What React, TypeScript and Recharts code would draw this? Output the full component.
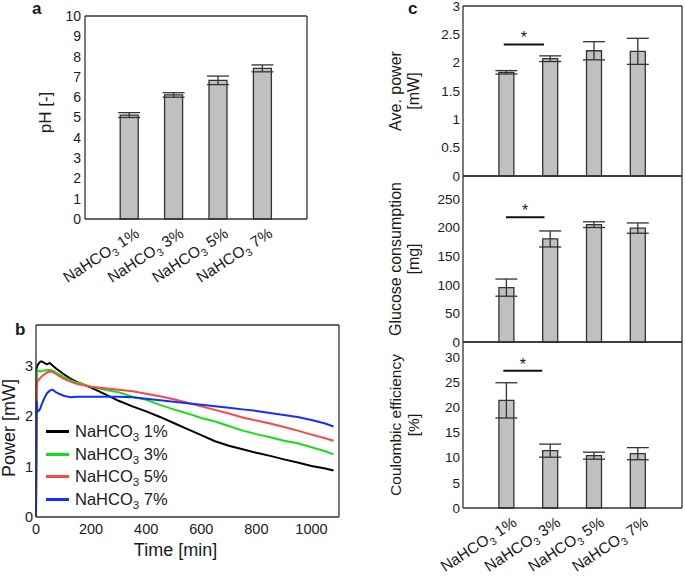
import React from "react";
import {
  BarChart,
  Bar,
  ErrorBar,
  LineChart,
  Line,
  XAxis,
  YAxis,
  Legend,
  ReferenceLine,
  ReferenceDot,
} from "recharts";

const FONT = '"Liberation Sans", Arial, Helvetica, sans-serif';
const AXIS = "#333333";
const INK = "#1a1a1a";
const BAR_FILL = "#c0c0c0";

// categories shared by the bar panels (slot positions on a 0..5 axis)
const CATEGORIES = ["NaHCO3 1%", "NaHCO3 3%", "NaHCO3 5%", "NaHCO3 7%"];
const SLOTS = [1, 2, 3, 4];

// (a) pH
const PH = [5.12, 6.11, 6.83, 7.42];
const PH_SD = [0.12, 0.11, 0.21, 0.17];
const PH_TICKS = [0, 1, 2, 3, 4, 5, 6, 7, 8, 9, 10];

// (c) average power, glucose consumption, coulombic efficiency
const AVE_POWER = [1.83, 2.07, 2.21, 2.2];
const AVE_POWER_SD = [0.03, 0.05, 0.16, 0.23];
const AVE_POWER_TICKS = [0, 0.5, 1, 1.5, 2, 2.5, 3];
const GLUCOSE = [95, 180, 205, 199];
const GLUCOSE_SD = [15, 14, 5, 9];
const GLUCOSE_TICKS = [0, 50, 100, 150, 200, 250];
const CE = [21.4, 11.4, 10.4, 10.8];
const CE_SD = [3.5, 1.3, 0.7, 1.2];
const CE_TICKS = [0, 5, 10, 15, 20, 25, 30];

// significance bars between 1% and 3%: [x from, x to, bar level, star level]
const SIG_POWER = [0.93, 1.85, 2.32, 2.48];
const SIG_GLUCOSE = [0.98, 1.86, 218, 234];
const SIG_CE = [0.92, 1.81, 27.3, 29.1];

// (b) power vs time
const TIME = [
  0, 2, 5, 10, 15, 20, 30, 40, 50, 60, 75, 100, 125, 150, 200, 250, 300, 350,
  400, 450, 500, 550, 600, 650, 700, 750, 800, 850, 900, 950, 1000, 1050, 1080,
];
const P_1 = [
  0, 2.95, 3.0, 3.04, 3.07, 3.08, 3.05, 3.02, 3.05, 3.0, 2.93, 2.83, 2.74,
  2.67, 2.56, 2.43, 2.3, 2.19, 2.09, 1.98, 1.86, 1.74, 1.62, 1.5, 1.41, 1.34,
  1.27, 1.21, 1.14, 1.08, 1.01, 0.96, 0.92,
];
const P_3 = [
  0, 2.88, 2.9, 2.89, 2.88, 2.89, 2.9, 2.91, 2.91, 2.9, 2.85, 2.78, 2.71, 2.66,
  2.58, 2.52, 2.47, 2.38, 2.32, 2.22, 2.13, 2.05, 1.96, 1.89, 1.8, 1.71, 1.64,
  1.58, 1.51, 1.46, 1.38, 1.3, 1.24,
];
const P_5 = [
  0, 2.45, 2.68, 2.72, 2.75, 2.78, 2.82, 2.86, 2.88, 2.87, 2.82, 2.74, 2.68,
  2.63, 2.58, 2.55, 2.52, 2.49, 2.44, 2.39, 2.33, 2.26, 2.19, 2.12, 2.05, 1.97,
  1.91, 1.85, 1.78, 1.71, 1.63, 1.56, 1.51,
];
const P_7 = [
  0, 2.3, 2.08, 2.1, 2.14, 2.22, 2.35, 2.45, 2.5, 2.52, 2.46, 2.4, 2.37, 2.38,
  2.38, 2.38, 2.38, 2.37, 2.34, 2.31, 2.28, 2.25, 2.22, 2.19, 2.16, 2.13, 2.1,
  2.06, 2.02, 1.98, 1.92, 1.85, 1.79,
];
const TIME_TICKS = [0, 200, 400, 600, 800, 1000];
const POWER_TICKS = [0, 1, 2, 3];

const SERIES = [
  { key: "p1", name: "NaHCO3 1%", color: "#000000", values: P_1 },
  { key: "p3", name: "NaHCO3 3%", color: "#16e016", values: P_3 },
  { key: "p5", name: "NaHCO3 5%", color: "#ff4545", values: P_5 },
  { key: "p7", name: "NaHCO3 7%", color: "#1030ff", values: P_7 },
];

const powerData = TIME.map((t, i) => {
  const row: Record<string, number> = { t };
  SERIES.forEach((s) => (row[s.key] = s.values[i]));
  return row;
});

function barRows(mean: number[], sd: number[]) {
  return SLOTS.map((pos, i) => ({ pos, mean: mean[i], sd: sd[i] }));
}

function Chem({ label, small }: { label: string; small: number }) {
  const [chem, pct] = label.split(" ");
  return (
    <>
      <tspan>{chem.slice(0, -1)}</tspan>
      <tspan fontSize={small} dy={4}>
        {chem.slice(-1)}
      </tspan>
      <tspan dy={-4}>{" " + pct}</tspan>
    </>
  );
}

function CategoryTick(props: any) {
  const { x, y, payload } = props;
  const label = CATEGORIES[payload.value - 1];
  if (!label) return null;
  return (
    <g transform={`translate(${x + 11},${y + 17})`}>
      <text transform="rotate(-33)" textAnchor="end" fontSize={15.5} fill={INK}>
        <Chem label={label} small={10.5} />
      </text>
    </g>
  );
}

function vTitle(lines: string[], xs: number[], fontSize: number, dy = 0) {
  return (props: any) => {
    const vb = props.viewBox ?? {};
    const cy = (vb.y ?? 0) + (vb.height ?? 0) / 2 + dy;
    return (
      <g>
        {lines.map((l, i) => (
          <text
            key={i}
            x={xs[i]}
            y={cy}
            transform={`rotate(-90 ${xs[i]} ${cy})`}
            textAnchor="middle"
            dominantBaseline="central"
            fontSize={fontSize}
            fill={INK}
          >
            {l}
          </text>
        ))}
      </g>
    );
  };
}

function Star(props: any) {
  return (
    <text x={props.cx} y={props.cy + 8} textAnchor="middle" fontSize={16} fill={INK}>
      *
    </text>
  );
}

function PowerLegend(props: any) {
  const items = props.payload ?? [];
  return (
    <div style={{ display: "flex", flexDirection: "column" }}>
      {items.map((it: any) => {
        const [chem, pct] = String(it.value).split(" ");
        return (
          <div
            key={it.value}
            style={{ display: "flex", alignItems: "center", height: 22.8, fontSize: 16.5, color: INK }}
          >
            <span
              style={{ display: "inline-block", width: 23, height: 3, background: it.color, marginRight: 6 }}
            />
            <span style={{ whiteSpace: "nowrap" }}>
              {chem.slice(0, -1)}
              <span style={{ fontSize: 11.5, position: "relative", top: 4 }}>{chem.slice(-1)}</span>
              {" " + pct}
            </span>
          </div>
        );
      })}
    </div>
  );
}

// box frame + inward ticks for a bar panel
function frameAxes(domain: [number, number], ticks: number[]) {
  return [
    <XAxis
      key="top"
      xAxisId="top"
      orientation="top"
      type="number"
      domain={[0, 5]}
      mirror
      tick={false}
      tickLine={false}
      axisLine={{ stroke: AXIS, strokeWidth: 1.3 }}
      allowDataOverflow
    />,
    <YAxis
      key="yin"
      yAxisId="yin"
      type="number"
      domain={domain}
      ticks={ticks}
      mirror
      tick={false}
      tickSize={4}
      tickLine={{ stroke: AXIS }}
      axisLine={false}
      allowDataOverflow
    />,
    <YAxis
      key="right"
      yAxisId="right"
      orientation="right"
      type="number"
      domain={domain}
      ticks={ticks}
      mirror
      tick={false}
      tickSize={4}
      tickLine={{ stroke: AXIS }}
      axisLine={{ stroke: AXIS, strokeWidth: 1.3 }}
      allowDataOverflow
    />,
  ];
}

function meanBar(barSize: number) {
  return (
    <Bar
      xAxisId="x"
      yAxisId="y"
      dataKey="mean"
      barSize={barSize}
      fill={BAR_FILL}
      stroke={AXIS}
      strokeWidth={1.3}
      isAnimationActive={false}
    >
      <ErrorBar dataKey="sd" width={11} stroke={AXIS} strokeWidth={1.3} direction="y" />
    </Bar>
  );
}

function sigMarks(sig: number[]) {
  const [x1, x2, level, star] = sig;
  return [
    <ReferenceLine
      key="sig"
      xAxisId="x"
      yAxisId="y"
      segment={[
        { x: x1, y: level },
        { x: x2, y: level },
      ]}
      stroke="#111"
      strokeWidth={2}
    />,
    <ReferenceDot
      key="star"
      xAxisId="x"
      yAxisId="y"
      x={(x1 + x2) / 2}
      y={star}
      r={0}
      shape={Star}
    />,
  ];
}

function PanelC({
  top,
  height,
  margin,
  xHeight,
  data,
  domain,
  ticks,
  title,
  titleSize,
  sig,
  showCats,
}: any) {
  return (
    <div style={{ position: "absolute", left: 380, top, width: 305, height }}>
      <BarChart width={305} height={height} data={data} margin={margin}>
        <XAxis
          xAxisId="x"
          type="number"
          dataKey="pos"
          domain={[0, 5]}
          ticks={SLOTS}
          interval={0}
          height={xHeight}
          tick={showCats ? <CategoryTick /> : false}
          tickLine={false}
          tickSize={0}
          tickMargin={0}
          axisLine={{ stroke: AXIS, strokeWidth: 1.3 }}
        />
        <YAxis
          yAxisId="y"
          type="number"
          domain={domain}
          ticks={ticks}
          interval={0}
          width={83}
          tickLine={false}
          tickSize={0}
          tickMargin={3}
          tick={{ fontSize: 13.5, fill: INK }}
          axisLine={{ stroke: AXIS, strokeWidth: 1.3 }}
          label={vTitle(title, [15, 33], titleSize)}
        />
        {frameAxes(domain, ticks)}
        {meanBar(15)}
        {sigMarks(sig)}
      </BarChart>
    </div>
  );
}

export default function App() {
  return (
    <div
      style={{
        position: "absolute",
        left: 0,
        top: 0,
        width: 685,
        height: 578,
        background: "#fff",
        fontFamily: FONT,
        overflow: "hidden",
      }}
    >
      {/* (a) pH */}
      <div style={{ position: "absolute", left: 0, top: 0, width: 320, height: 300 }}>
        <BarChart width={320} height={300} data={barRows(PH, PH_SD)} margin={{ top: 16, right: 13, left: 0, bottom: 0 }}>
          <XAxis
            xAxisId="x"
            type="number"
            dataKey="pos"
            domain={[0, 5]}
            ticks={SLOTS}
            interval={0}
            height={81}
            tick={<CategoryTick />}
            tickLine={false}
            tickSize={0}
            tickMargin={0}
            axisLine={{ stroke: AXIS, strokeWidth: 1.3 }}
          />
          <YAxis
            yAxisId="y"
            type="number"
            domain={[0, 10]}
            ticks={PH_TICKS}
            interval={0}
            width={85}
            tickLine={false}
            tickSize={0}
            tickMargin={4}
            tick={{ fontSize: 14, fill: INK }}
            axisLine={{ stroke: AXIS, strokeWidth: 1.3 }}
            label={vTitle(["pH [-]"], [45], 17, -5)}
          />
          {frameAxes([0, 10], PH_TICKS)}
          {meanBar(18)}
        </BarChart>
      </div>

      {/* (b) power vs time */}
      <div style={{ position: "absolute", left: 0, top: 310, width: 360, height: 268 }}>
        <LineChart width={360} height={268} data={powerData} margin={{ top: 15, right: 21, left: 0, bottom: 0 }}>
          <XAxis
            xAxisId="x"
            type="number"
            dataKey="t"
            domain={[0, 1100]}
            ticks={TIME_TICKS}
            interval={0}
            height={61}
            tickLine={false}
            tickSize={0}
            tickMargin={7}
            tick={{ fontSize: 14.5, fill: INK }}
            axisLine={{ stroke: AXIS, strokeWidth: 1.3 }}
            label={(p: any) => {
              const vb = p.viewBox ?? {};
              return (
                <text
                  x={(vb.x ?? 0) + (vb.width ?? 0) / 2 - 12}
                  y={(vb.y ?? 0) + 39}
                  textAnchor="middle"
                  fontSize={18}
                  fill={INK}
                >
                  Time [min]
                </text>
              );
            }}
          />
          <XAxis
            xAxisId="xin"
            type="number"
            domain={[0, 1100]}
            ticks={TIME_TICKS}
            mirror
            tick={false}
            tickSize={4}
            tickLine={{ stroke: AXIS }}
            axisLine={false}
            allowDataOverflow
          />
          <XAxis
            xAxisId="top"
            orientation="top"
            type="number"
            domain={[0, 1100]}
            ticks={TIME_TICKS}
            mirror
            tick={false}
            tickSize={4}
            tickLine={{ stroke: AXIS }}
            axisLine={{ stroke: AXIS, strokeWidth: 1.3 }}
            allowDataOverflow
          />
          <YAxis
            yAxisId="y"
            type="number"
            domain={[0, 3.8]}
            ticks={POWER_TICKS}
            interval={0}
            width={36}
            tickLine={false}
            tickSize={0}
            tickMargin={3}
            tick={{ fontSize: 14.5, fill: INK }}
            axisLine={{ stroke: AXIS, strokeWidth: 1.3 }}
            label={vTitle(["Power [mW]"], [9], 18, 7)}
          />
          <YAxis
            yAxisId="yin"
            type="number"
            domain={[0, 3.8]}
            ticks={POWER_TICKS}
            mirror
            tick={false}
            tickSize={4}
            tickLine={{ stroke: AXIS }}
            axisLine={false}
            allowDataOverflow
          />
          <YAxis
            yAxisId="right"
            orientation="right"
            type="number"
            domain={[0, 3.8]}
            ticks={POWER_TICKS}
            mirror
            tick={false}
            tickSize={4}
            tickLine={{ stroke: AXIS }}
            axisLine={{ stroke: AXIS, strokeWidth: 1.3 }}
            allowDataOverflow
          />
          {SERIES.map((s) => (
            <Line
              key={s.key}
              xAxisId="x"
              yAxisId="y"
              type="linear"
              dataKey={s.key}
              name={s.name}
              stroke={s.color}
              strokeWidth={2}
              dot={false}
              isAnimationActive={false}
            />
          ))}
          <Legend
            layout="vertical"
            align="center"
            verticalAlign="middle"
            content={<PowerLegend />}
            wrapperStyle={{ left: 46, top: 110, width: 150 }}
          />
        </LineChart>
      </div>

      {/* (c) three stacked bar panels */}
      <PanelC
        top={0}
        height={185}
        margin={{ top: 6, right: 3, left: 0, bottom: 8 }}
        xHeight={1}
        data={barRows(AVE_POWER, AVE_POWER_SD)}
        domain={[0, 3]}
        ticks={AVE_POWER_TICKS}
        title={["Ave. power", "[mW]"]}
        titleSize={16}
        sig={SIG_POWER}
        showCats={false}
      />
      <PanelC
        top={170}
        height={185}
        margin={{ top: 6, right: 3, left: 0, bottom: 12 }}
        xHeight={1}
        data={barRows(GLUCOSE, GLUCOSE_SD)}
        domain={[0, 290]}
        ticks={GLUCOSE_TICKS}
        title={["Glucose consumption", "[mg]"]}
        titleSize={16}
        sig={SIG_GLUCOSE}
        showCats={false}
      />
      <PanelC
        top={330}
        height={248}
        margin={{ top: 12, right: 3, left: 0, bottom: 0 }}
        xHeight={70}
        data={barRows(CE, CE_SD)}
        domain={[0, 33]}
        ticks={CE_TICKS}
        title={["Coulombic efficiency", "[%]"]}
        titleSize={15.5}
        sig={SIG_CE}
        showCats={true}
      />

      <svg
        width={685}
        height={578}
        style={{ position: "absolute", left: 0, top: 0, pointerEvents: "none" }}
      >
        <text x={32} y={14} fontSize={17} fontWeight="bold" fill={INK}>
          a
        </text>
        <text x={15} y={335} fontSize={17} fontWeight="bold" fill={INK}>
          b
        </text>
        <text x={408} y={14} fontSize={17} fontWeight="bold" fill={INK}>
          c
        </text>
      </svg>
    </div>
  );
}
